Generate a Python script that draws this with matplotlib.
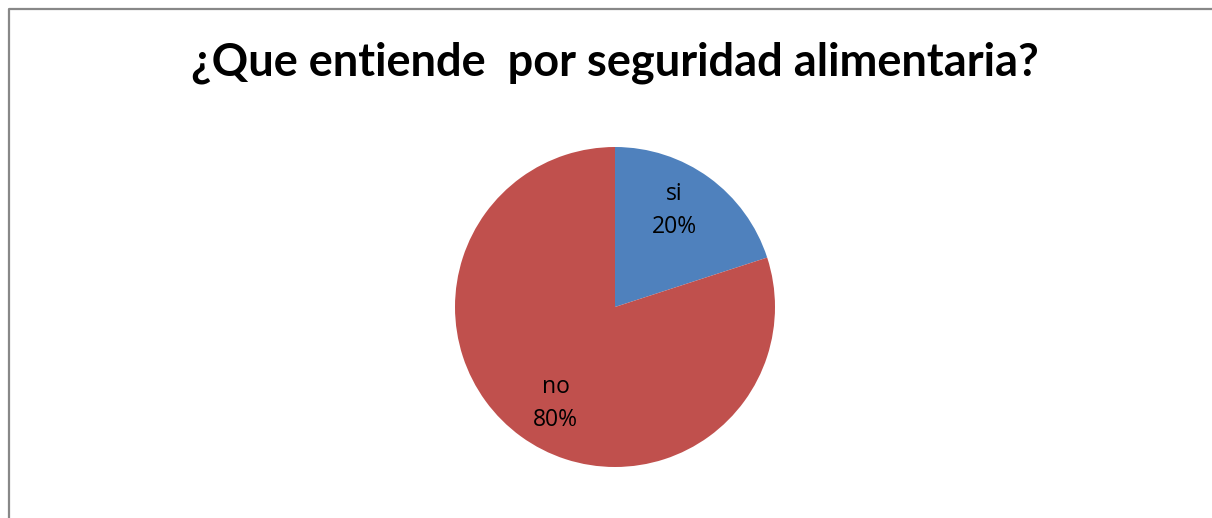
import matplotlib
matplotlib.use("Agg")
from matplotlib import pyplot as plt
from matplotlib.lines import Line2D
import numpy as np

#=======================Data========================

categories = ["si", "no"]
percentages = [20, 80]
colors = ["#4F81BD", "#C0504D"]
title = "¿Que entiende  por seguridad alimentaria?"

#=======================Figure========================

fig = plt.figure(figsize=(12.12, 5.18), dpi=100)
fig.patch.set_facecolor("white")

# chart area border (continues past right and bottom edge)
fig.add_artist(Line2D([8.5 / 1212, 8.5 / 1212, 1.0], [0.0, 1 - 8.5 / 518, 1 - 8.5 / 518],
                      transform=fig.transFigure, color="#888888", lw=1.6))

fig.text(615 / 1212, 1 - 63 / 518, title, ha="center", va="center",
         fontsize=32.5, fontweight="bold", family=["Lato", "DejaVu Sans"])

ax = fig.add_axes([(615 - 160) / 1212, (518 - 467) / 518, 320 / 1212, 320 / 518])
labels = [f"{c}\n{p}%" for c, p in zip(categories, percentages)]
wedges, texts = ax.pie(percentages, colors=colors, startangle=90, counterclock=False,
                       labels=labels, labeldistance=0.71,
                       wedgeprops=dict(linewidth=0))
# excel puts the labels a little off the slice mid-angle
rot = np.deg2rad(4.5)
for t in texts:
    x, y = t.get_position()
    t.set_position((x * np.cos(rot) - y * np.sin(rot), x * np.sin(rot) + y * np.cos(rot)))
    t.set_ha("center")
    t.set_va("center")
    t.set_fontsize(16.5)
    t.set_family(["Open Sans", "DejaVu Sans"])
    t.set_linespacing(1.5)
ax.set_xlim(-1, 1)
ax.set_ylim(-1, 1)
ax.set_aspect("equal")

fig.savefig("out.png", dpi=100)
